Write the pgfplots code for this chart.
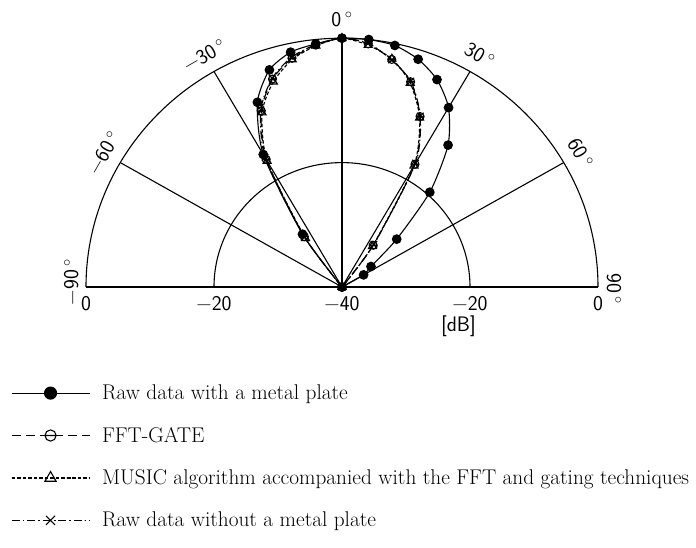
\documentclass[border=0pt]{standalone}
\usepackage{fontspec}
\usepackage{pgfplots}
\pgfplotsset{compat=1.18}
\usetikzlibrary{plotmarks}
\pgfdeclareplotmark{ominus}{%
  \pgfpathcircle{\pgfpointorigin}{\pgfplotmarksize}%
  \pgfpathmoveto{\pgfpoint{-\pgfplotmarksize}{0pt}}%
  \pgfpathlineto{\pgfpoint{\pgfplotmarksize}{0pt}}%
  \pgfusepathqstroke}
\newcommand\lab{\sffamily\fontsize{21}{24}\selectfont}
\newcommand\dg{\,$^{\circ}$}
\begin{document}
\begin{tikzpicture}
\path[use as bounding box] (-342pt,-261pt) rectangle (354pt,287pt);
\begin{axis}[anchor=origin, at={(0pt,0pt)},
  x=6.4pt, y=6.22pt, xmin=-45, xmax=45, ymin=-2, ymax=45,
  hide axis, clip=false,
  legend style={draw=none, fill=none, at={(-0.075,-0.285)}, anchor=north west,
    font=\fontsize{21.3}{24}\selectfont, row sep=22pt, inner sep=0pt,
    cells={anchor=west}},
  legend cell align=left,
  legend image code/.code={\draw[#1, mark repeat=2, mark phase=2, mark options={solid, scale=1.4}]
    plot coordinates {(0pt,0pt) (39pt,0pt) (78pt,0pt)}; \path (88pt,0pt);},
  every axis plot/.append style={black, line width=1.1pt, mark options={solid}},
]
% grid
\draw[line width=1.1pt] (axis cs:40,0) arc[start angle=0, end angle=180, x radius=256pt, y radius=248.8pt];
\draw[line width=1.1pt] (axis cs:20,0) arc[start angle=0, end angle=180, x radius=128pt, y radius=124.4pt];
\draw[line width=1.1pt] (axis cs:-40,0) -- (axis cs:40,0);
\draw[line width=1.1pt] (axis cs:0,0) -- (axis cs:0,40);
\draw[line width=1.1pt] (axis cs:0,0) -- (axis cs:20,34.641);
\draw[line width=1.1pt] (axis cs:0,0) -- (axis cs:-20,34.641);
\draw[line width=1.1pt] (axis cs:0,0) -- (axis cs:34.641,20);
\draw[line width=1.1pt] (axis cs:0,0) -- (axis cs:-34.641,20);
% labels
\node[font=\lab] at (axis cs:0,43) {0\dg};
\node[font=\lab, rotate=30] at (axis cs:-21.5,37.24) {−30\dg};
\node[font=\lab, rotate=-30] at (axis cs:21.5,37.24) {30\dg};
\node[font=\lab, rotate=60] at (axis cs:-37.24,21.5) {−60\dg};
\node[font=\lab, rotate=-60] at (axis cs:37.24,21.5) {60\dg};
\node[font=\lab, rotate=90] at (axis cs:-42.3,0.8) {−90\dg};
\node[font=\lab, rotate=-90] at (axis cs:42.5,-0.3) {90\dg};
\node[font=\lab] at (axis cs:-40,-2.6) {0};
\node[font=\lab] at (axis cs:-20,-2.6) {−20};
\node[font=\lab] at (axis cs:0,-2.6) {−40};
\node[font=\lab] at (axis cs:20,-2.6) {−20};
\node[font=\lab] at (axis cs:40,-2.6) {0};
\node[font=\lab] at (axis cs:18.2,-6.3) {[dB]};
% data: a = angle (deg), d = level (dB)
\addplot[mark=*, mark size=4.3pt, smooth, tension=0.4]
 table[x expr={(\thisrow{d}+40)*sin(\thisrow{a})}, y expr={(\thisrow{d}+40)*cos(\thisrow{a})}] {
a d
-42 -40
-36 -29.5
-30 -15.4
-24 -7.5
-18 -3.3
-12 -1.4
-6 -0.7
0 0
6 0
12 -0.3
18 -1.5
24 -3.5
30 -6.7
36 -11.8
42 -19.5
48 -28.5
54 -34.4
60 -36.1
66 -40
};
\addlegendentry{Raw data with a metal plate}
\addplot[mark=ominus, mark size=4pt, dash pattern=on 9pt off 5pt, smooth, tension=0.4]
 table[x expr={(\thisrow{d}+40)*sin(\thisrow{a})}, y expr={(\thisrow{d}+40)*cos(\thisrow{a})}] {
a d
-42 -40
-36 -30
-30 -16.3
-24 -9
-18 -4.85
-12 -2.4
-6 -0.9
0 0
6 -0.7
12 -2.6
18 -5.3
24 -10
30 -17.2
36 -31.7
42 -40
};
\addlegendentry{FFT-GATE}
\addplot[mark=triangle, mark size=4.6pt, dash pattern=on 3.5pt off 2pt, smooth, tension=0.4]
 table[x expr={(\thisrow{d}+40)*sin(\thisrow{a})}, y expr={(\thisrow{d}+40)*cos(\thisrow{a})}] {
a d
-42 -40
-36 -30.3
-30 -16.6
-24 -9.3
-18 -5.3
-12 -2.6
-6 -1.0
0 0
6 -0.9
12 -2.5
18 -5.5
24 -10.2
30 -17.5
36 -31.9
42 -40
};
\addlegendentry{MUSIC algorithm accompanied with the FFT and gating techniques}
\addplot[mark=x, mark size=4.6pt, dash pattern=on 8pt off 3pt on 1.5pt off 3pt, smooth, tension=0.4]
 table[x expr={(\thisrow{d}+40)*sin(\thisrow{a})}, y expr={(\thisrow{d}+40)*cos(\thisrow{a})}] {
a d
-42 -40
-36 -29.9
-30 -16.0
-24 -8.8
-18 -4.7
-12 -2.2
-6 -0.8
0 0
6 -0.6
12 -2.7
18 -5.2
24 -9.9
30 -17.0
36 -31.5
42 -40
};
\addlegendentry{Raw data without a metal plate}
\end{axis}
\end{tikzpicture}
\end{document}
